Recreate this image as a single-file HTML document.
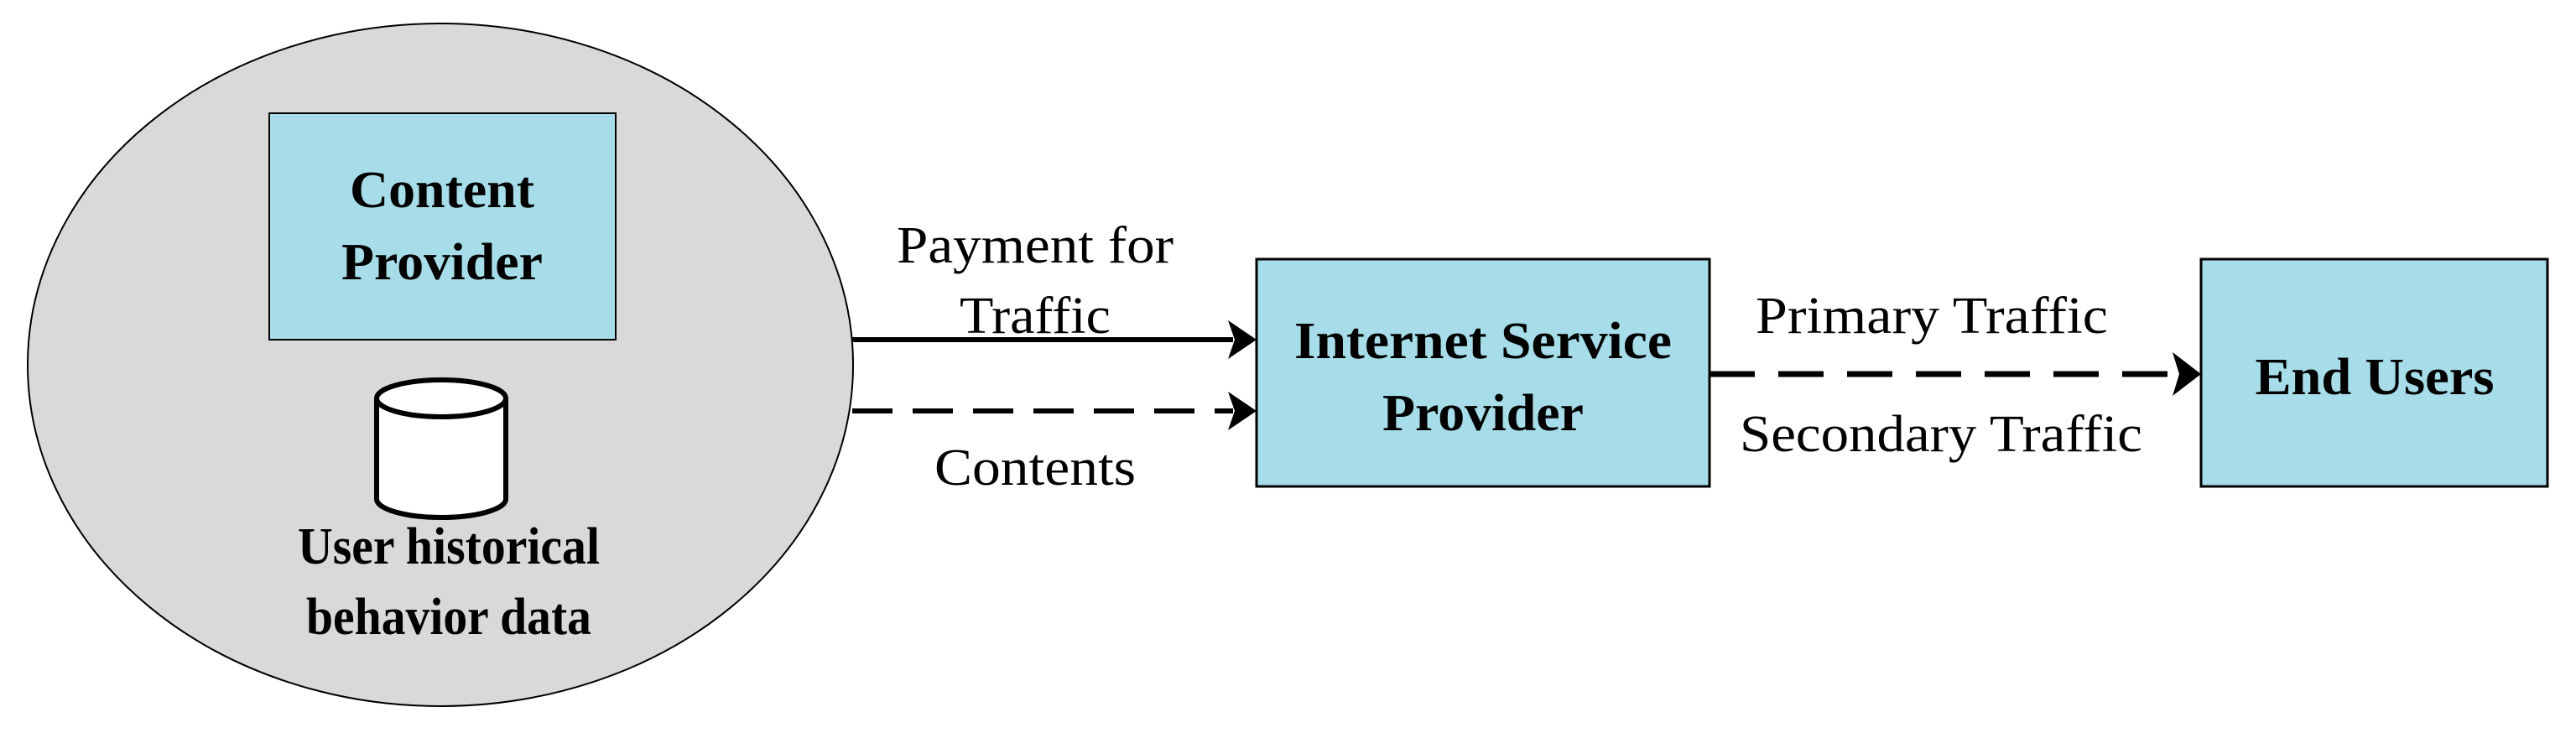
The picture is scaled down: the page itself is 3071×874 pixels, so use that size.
<!DOCTYPE html>
<html><head><meta charset="utf-8"><style>html,body{margin:0;padding:0;background:#fff}svg{display:block}</style></head>
<body>
<svg width="3071" height="874" viewBox="0 0 3071 874" xmlns="http://www.w3.org/2000/svg">
<defs>
<marker id="ah" markerWidth="10" markerHeight="10" refX="9" refY="5" orient="auto" markerUnits="userSpaceOnUse" viewBox="0 0 10 10">
</marker>
</defs>
<ellipse cx="525" cy="435" rx="492" ry="407" fill="#d9d9d9" stroke="#000" stroke-width="2"/>
<rect x="321" y="135" width="413" height="270" fill="#a6dde8" stroke="#000" stroke-width="2"/>
<g font-family="'Liberation Serif', serif" font-weight="bold" font-size="62" text-anchor="middle" fill="#000">
<text x="527" y="247" textLength="220" lengthAdjust="spacingAndGlyphs">Content</text>
<text x="527" y="333" textLength="240" lengthAdjust="spacingAndGlyphs">Provider</text>
<text x="535" y="672" textLength="360" lengthAdjust="spacingAndGlyphs">User historical</text>
<text x="535" y="756" textLength="340" lengthAdjust="spacingAndGlyphs">behavior data</text>
</g>
<!-- cylinder -->
<path d="M449 475 L449 595 A77 22 0 0 0 603 595 L603 475" fill="#fff" stroke="#000" stroke-width="6"/>
<ellipse cx="526" cy="475" rx="77" ry="22" fill="#fff" stroke="#000" stroke-width="6"/>
<!-- arrows left -->
<line x1="1016" y1="405" x2="1470" y2="405" stroke="#000" stroke-width="6"/>
<polygon points="1464,382 1498,405 1464,428 1472,405" fill="#000"/>
<line x1="1016" y1="490" x2="1470" y2="490" stroke="#000" stroke-width="6" stroke-dasharray="48,24"/>
<polygon points="1464,467 1498,490 1464,513 1472,490" fill="#000"/>
<rect x="1498" y="309" width="540" height="271" fill="#a6dde8" stroke="#000" stroke-width="3"/>
<rect x="2624" y="309" width="413" height="271" fill="#a6dde8" stroke="#000" stroke-width="3"/>
<line x1="2038" y1="446" x2="2590" y2="446" stroke="#000" stroke-width="7" stroke-dasharray="54,28"/>
<polygon points="2590,420 2624,446 2590,472 2598,446" fill="#000"/>
<g font-family="'Liberation Serif', serif" font-size="62" text-anchor="middle" fill="#000">
<text x="1234" y="313" textLength="330" lengthAdjust="spacingAndGlyphs">Payment for</text>
<text x="1234" y="397" textLength="180" lengthAdjust="spacingAndGlyphs">Traffic</text>
<text x="1234" y="578" textLength="240" lengthAdjust="spacingAndGlyphs">Contents</text>
<text x="2303" y="397" textLength="420" lengthAdjust="spacingAndGlyphs">Primary Traffic</text>
<text x="2314" y="538" textLength="480" lengthAdjust="spacingAndGlyphs">Secondary Traffic</text>
</g>
<g font-family="'Liberation Serif', serif" font-weight="bold" font-size="62" text-anchor="middle" fill="#000">
<text x="1768" y="427" textLength="450" lengthAdjust="spacingAndGlyphs">Internet Service</text>
<text x="1768" y="513" textLength="240" lengthAdjust="spacingAndGlyphs">Provider</text>
<text x="2831" y="470" textLength="285" lengthAdjust="spacingAndGlyphs">End Users</text>
</g>
</svg>
</body></html>
